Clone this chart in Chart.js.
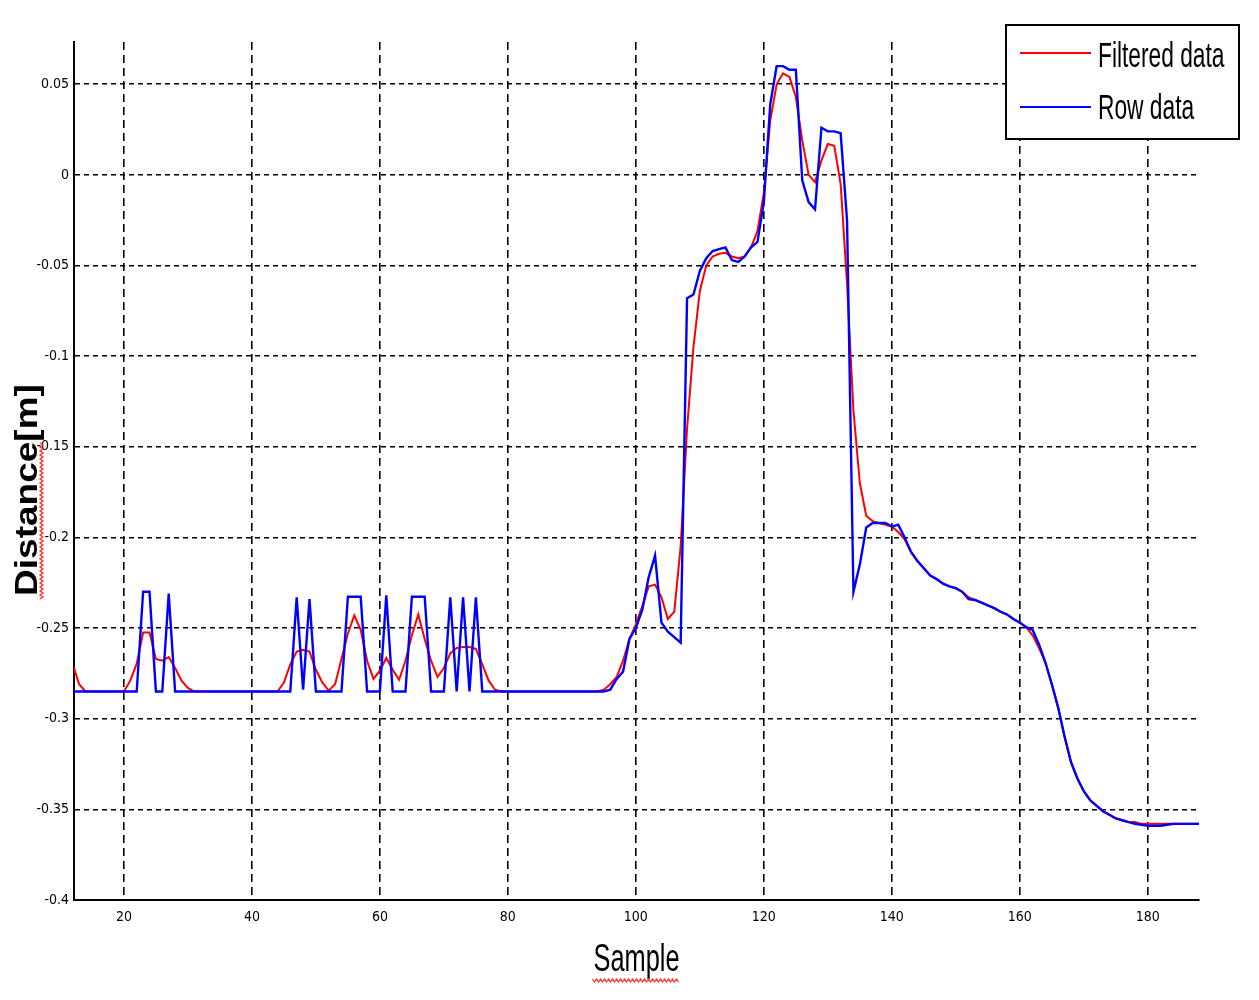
<!DOCTYPE html>
<html><head><meta charset="utf-8">
<script src="https://cdn.jsdelivr.net/npm/chart.js@4.4.1/dist/chart.umd.min.js"></script>
<style>html,body{margin:0;padding:0;background:#fff}#wrap{width:1259px;height:1000px;position:relative}</style>
</head><body><div id="wrap"><canvas id="c"></canvas></div>
<script>
const samples = [12,13,14,15,16,17,18,19,20,21,22,23,24,25,26,27,28,29,30,31,32,33,34,35,36,37,38,39,40,41,42,43,44,45,46,47,48,49,50,51,52,53,54,55,56,57,58,59,60,61,62,63,64,65,66,67,68,69,70,71,72,73,74,75,76,77,78,79,80,81,82,83,84,85,86,87,88,89,90,91,92,93,94,95,96,97,98,99,100,101,102,103,104,105,106,107,108,109,110,111,112,113,114,115,116,117,118,119,120,121,122,123,124,125,126,127,128,129,130,131,132,133,134,135,136,137,138,139,140,141,142,143,144,145,146,147,148,149,150,151,152,153,154,155,156,157,158,159,160,161,162,163,164,165,166,167,168,169,170,171,172,173,174,175,176,177,178,179,180,181,182,183,184,185,186,187,188];

const filteredData = [
-0.270,-0.281,-0.285,-0.285,-0.285,-0.285,-0.285,-0.285,-0.285,-0.279,
-0.2696,-0.2525,-0.2525,-0.267,-0.268,-0.266,-0.272,-0.279,-0.283,-0.285,
-0.285,-0.285,-0.285,-0.285,-0.285,-0.285,-0.285,-0.285,-0.285,-0.285,
-0.285,-0.285,-0.285,-0.280,-0.270,-0.263,-0.262,-0.263,-0.273,-0.280,
-0.2845,-0.281,-0.267,-0.253,-0.243,-0.251,-0.268,-0.278,-0.2735,-0.2665,
-0.273,-0.2785,-0.268,-0.254,-0.2425,-0.256,-0.268,-0.277,-0.272,-0.264,
-0.261,-0.2605,-0.2605,-0.2615,-0.270,-0.279,-0.284,-0.285,-0.285,-0.285,
-0.285,-0.285,-0.285,-0.285,-0.285,-0.285,-0.285,-0.285,-0.285,-0.285,
-0.285,-0.285,-0.285,-0.284,-0.281,-0.277,-0.268,-0.256,-0.248,-0.238,
-0.227,-0.226,-0.233,-0.245,-0.241,-0.205,-0.140,-0.095,-0.064,-0.050,
-0.045,-0.0435,-0.043,-0.045,-0.046,-0.045,-0.040,-0.031,-0.010,0.030,
0.050,0.056,0.054,0.043,0.019,0.000,-0.004,0.008,0.017,0.016,
-0.005,-0.060,-0.130,-0.170,-0.188,-0.191,-0.192,-0.193,-0.194,-0.197,
-0.201,-0.208,-0.213,-0.217,-0.221,-0.223,-0.2255,-0.227,-0.228,-0.230,
-0.233,-0.2345,-0.236,-0.2375,-0.239,-0.241,-0.2425,-0.245,-0.247,-0.2495,
-0.254,-0.261,-0.269,-0.281,-0.294,-0.310,-0.324,-0.333,-0.340,-0.345,
-0.348,-0.351,-0.353,-0.355,-0.356,-0.357,-0.357,-0.358,-0.358,-0.358,
-0.358,-0.358,-0.358,-0.358,-0.358,-0.358,-0.358];

const rowData = [
-0.285,-0.285,-0.285,-0.285,-0.285,-0.285,-0.285,-0.285,-0.285,-0.285,
-0.285,-0.230,-0.230,-0.285,-0.285,-0.231,-0.285,-0.285,-0.285,-0.285,
-0.285,-0.285,-0.285,-0.285,-0.285,-0.285,-0.285,-0.285,-0.285,-0.285,
-0.285,-0.285,-0.285,-0.285,-0.285,-0.233,-0.284,-0.234,-0.285,-0.285,
-0.285,-0.285,-0.285,-0.2327,-0.2327,-0.2327,-0.285,-0.285,-0.285,-0.232,
-0.285,-0.285,-0.285,-0.2327,-0.2327,-0.2327,-0.285,-0.285,-0.285,-0.233,
-0.285,-0.233,-0.285,-0.233,-0.285,-0.285,-0.285,-0.285,-0.285,-0.285,
-0.285,-0.285,-0.285,-0.285,-0.285,-0.285,-0.285,-0.285,-0.285,-0.285,
-0.285,-0.285,-0.285,-0.285,-0.284,-0.278,-0.274,-0.256,-0.250,-0.240,
-0.222,-0.210,-0.247,-0.252,-0.255,-0.258,-0.068,-0.066,-0.053,-0.046,
-0.042,-0.041,-0.040,-0.047,-0.048,-0.045,-0.040,-0.037,-0.015,0.039,
0.060,0.060,0.058,0.058,-0.003,-0.015,-0.019,0.026,0.024,0.024,
0.023,-0.025,-0.230,-0.215,-0.1945,-0.192,-0.192,-0.192,-0.194,-0.193,
-0.200,-0.208,-0.213,-0.217,-0.221,-0.223,-0.2255,-0.227,-0.228,-0.230,
-0.234,-0.2345,-0.236,-0.2375,-0.239,-0.241,-0.2425,-0.245,-0.247,-0.2495,
-0.251,-0.259,-0.269,-0.281,-0.294,-0.310,-0.324,-0.333,-0.340,-0.345,
-0.348,-0.351,-0.353,-0.355,-0.356,-0.357,-0.358,-0.3585,-0.359,-0.359,
-0.359,-0.3585,-0.358,-0.358,-0.358,-0.358,-0.358];

const seriesLabels = ['Filtered data', 'Row data'];
const xTickValues = [20, 40, 60, 80, 100, 120, 140, 160, 180];
const xTickLabels = ['20', '40', '60', '80', '100', '120', '140', '160', '180'];
const yTickValues = [-0.4, -0.35, -0.3, -0.25, -0.2, -0.15, -0.1, -0.05, 0, 0.05];
const yTickLabels = ['-0.4', '-0.35', '-0.3', '-0.25', '-0.2', '-0.15', '-0.1', '-0.05', '0', '0.05'];
const xTitle = 'Sample';
const yTitle = 'Distance[m]';

const NARROW = "'Liberation Sans Narrow', 'Arial Narrow', 'DejaVu Sans Condensed', 'Liberation Sans', sans-serif";
const ARIAL = "'Liberation Sans', Arial, sans-serif";
const X_TITLE_SIZE = 39, X_TITLE_SQUEEZE = 0.65;
const Y_TITLE_SIZE = 37, Y_TITLE_SQUEEZE = 0.87, Y_TITLE_SHIFT = 19, Y_TITLE_PAD = 6;

function pts(ys) { return samples.map((x, i) => ({ x: x, y: ys[i] })); }

// wrap a scale's title drawing with a transform (horizontal squeeze of the original figure)
function wrapTitle(s, fn) {
  if (s.$wrapped) return;
  const orig = s.drawTitle;
  s.drawTitle = function () {
    const ctx = this.ctx;
    ctx.save();
    fn(this, ctx);
    orig.call(this);
    ctx.restore();
  };
  s.$wrapped = true;
}

const boxLegend = {
  id: 'boxLegend',
  afterDraw(chart) {
    const { ctx, chartArea } = chart;
    const bx = chartArea.right - 193, by = chartArea.top - 17, bw = 233, bh = 114;
    ctx.save();
    ctx.fillStyle = '#fff';
    ctx.fillRect(bx, by, bw, bh);
    ctx.lineWidth = 2;
    ctx.strokeStyle = '#000';
    ctx.strokeRect(bx, by, bw, bh);
    const rows = [
      { ds: chart.data.datasets[1], lineY: by + 28, baseY: by + 42 },
      { ds: chart.data.datasets[0], lineY: by + 82, baseY: by + 94 }
    ];
    rows.forEach(r => {
      ctx.beginPath();
      ctx.strokeStyle = r.ds.borderColor;
      ctx.lineWidth = 2;
      ctx.moveTo(bx + 14, r.lineY);
      ctx.lineTo(bx + 85, r.lineY);
      ctx.stroke();
      ctx.save();
      ctx.translate(bx + 92, r.baseY);
      ctx.scale(0.65, 1);
      ctx.fillStyle = '#000';
      ctx.font = "35px " + ARIAL;
      ctx.textBaseline = 'alphabetic';
      ctx.textAlign = 'left';
      ctx.fillText(r.ds.label, 0, 0);
      ctx.restore();
    });
    ctx.restore();
  }
};

const squiggle = {
  id: 'squiggle',
  afterDraw(chart) {
    const { ctx, chartArea } = chart;
    ctx.save();
    ctx.strokeStyle = '#ff3b3b';
    ctx.lineWidth = 1.3;
    // under x title
    ctx.font = X_TITLE_SIZE + "px " + ARIAL;
    const w = ctx.measureText(xTitle).width * X_TITLE_SQUEEZE;
    const cx = (chartArea.left + chartArea.right) / 2;
    ctx.beginPath();
    let k = 0;
    for (let x = cx - w / 2 - 1; x <= cx + w / 2 + 1; x += 2, k++) {
      const y = 979 + (k % 2 ? 3 : 0);
      if (k === 0) ctx.moveTo(x, y); else ctx.lineTo(x, y);
    }
    ctx.stroke();
    // beside rotated y title (word "Distance")
    ctx.font = "bold " + Y_TITLE_SIZE + "px " + ARIAL;
    const wAll = ctx.measureText(yTitle).width;
    const wWord = ctx.measureText('Distance').width;
    const cy = (chartArea.top + chartArea.bottom) / 2 + Y_TITLE_SHIFT;
    const yStart = cy + wAll / 2 + 3;
    ctx.beginPath();
    k = 0;
    for (let y = yStart; y >= yStart - wWord - 3; y -= 2, k++) {
      const x = 40 + (k % 2 ? 3 : 0);
      if (k === 0) ctx.moveTo(x, y); else ctx.lineTo(x, y);
    }
    ctx.stroke();
    ctx.restore();
  }
};

new Chart(document.getElementById('c'), {
  type: 'line',
  data: {
    datasets: [
      { label: seriesLabels[1], data: pts(rowData), borderColor: '#0000ff', borderWidth: 2.4, pointRadius: 0, tension: 0, fill: false, order: 0 },
      { label: seriesLabels[0], data: pts(filteredData), borderColor: '#ff0000', borderWidth: 2, pointRadius: 0, tension: 0, fill: false, order: 1 }
    ]
  },
  options: {
    responsive: true,
    maintainAspectRatio: false,
    animation: false,
    devicePixelRatio: 1,
    layout: { padding: { top: 42, right: 60, left: 0, bottom: 0 } },
    plugins: { legend: { display: false }, tooltip: { enabled: false } },
    scales: {
      x: {
        type: 'linear',
        min: 12.2,
        max: 188,
        afterFit(s) {
          s.height = 100;
          wrapTitle(s, (sc, ctx) => {
            const c = (sc.left + sc.right) / 2;
            ctx.translate(c, 0); ctx.scale(X_TITLE_SQUEEZE, 1); ctx.translate(-c, 0);
          });
        },
        afterBuildTicks(s) { s.ticks = xTickValues.map(v => ({ value: v })); },
        ticks: {
          autoSkip: false, maxRotation: 0, padding: 9,
          color: '#000',
          font: { family: NARROW, size: 14 },
          callback: (v) => { const i = xTickValues.indexOf(v); return i >= 0 ? xTickLabels[i] : ''; }
        },
        grid: { color: '#000', lineWidth: 1.6, drawTicks: false },
        border: { display: true, color: '#000', width: 2, dash: [8, 5] },
        title: { display: true, text: xTitle, color: '#000', font: { family: ARIAL, size: X_TITLE_SIZE, lineHeight: 1.2 }, padding: { top: 0, bottom: 16 } }
      },
      y: {
        type: 'linear',
        min: -0.4,
        max: 0.0733,
        afterFit(s) {
          s.width = 74;
          wrapTitle(s, (sc, ctx) => {
            const c = sc.left + Y_TITLE_SIZE * 1.2 / 2 + Y_TITLE_PAD;
            ctx.translate(c, Y_TITLE_SHIFT); ctx.scale(Y_TITLE_SQUEEZE, 1); ctx.translate(-c, 0);
          });
        },
        afterBuildTicks(s) { s.ticks = yTickValues.map(v => ({ value: v })); },
        ticks: {
          autoSkip: false, padding: 5,
          color: '#000',
          font: { family: NARROW, size: 14 },
          callback: (v) => { const i = yTickValues.findIndex(t => Math.abs(t - v) < 1e-9); return i >= 0 ? yTickLabels[i] : ''; }
        },
        grid: { color: '#000', lineWidth: 1.6, drawTicks: false },
        border: { display: true, color: '#000', width: 2, dash: [5, 4] },
        title: { display: true, text: yTitle, color: '#000', font: { family: ARIAL, size: Y_TITLE_SIZE, weight: 'bold', lineHeight: 1.2 }, padding: { top: Y_TITLE_PAD, bottom: 0 } }
      }
    }
  },
  plugins: [boxLegend, squiggle]
});
</script></body></html>
